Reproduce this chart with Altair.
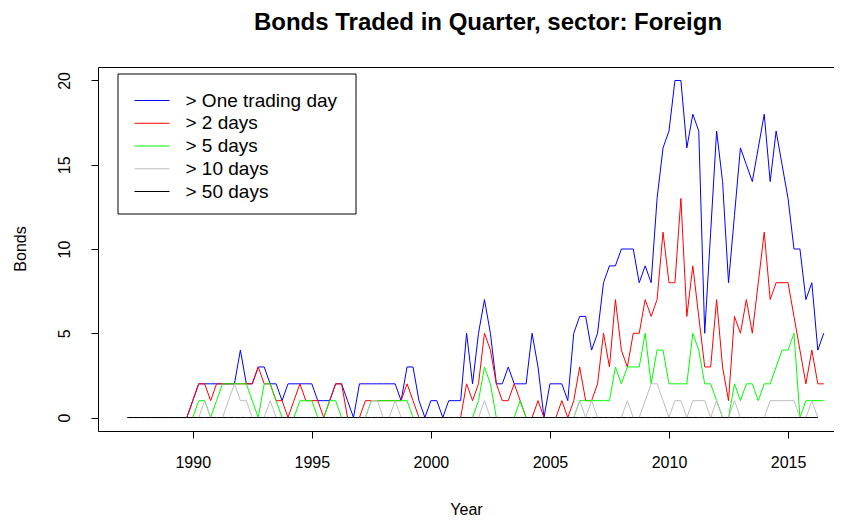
import altair as alt
import pandas as pd

# Quarterly series, first quarter 1987 Q2 (1987.25), step 0.25 year
start_year = 1987.25

one_day = [0,0,0,0,0,0,0,0,0,0,
           0,1,2,2,2,2,2,2,2,4,
           2,2,3,3,2,2,1,2,2,2,
           2,2,1,1,1,2,2,1,0,2,
           2,2,2,2,2,2,1,3,3,1,
           0,1,1,0,1,1,1,5,2,5,
           7,5,2,2,3,2,2,2,5,3,
           0,2,2,2,1,5,6,6,4,5,
           8,9,9,10,10,10,8,9,8,13,
           16,17,20,20,16,18,17,5,11,17,
           14,8,12,16,15,14,16,18,14,17,
           15,13,10,10,7,8,4,5]

two_days = [0,0,0,0,0,0,0,0,0,0,
            0,1,2,2,1,2,2,2,2,2,
            2,2,3,2,2,1,1,0,1,2,
            1,1,1,0,1,2,2,0,0,0,
            1,1,1,1,1,1,1,2,1,0,
            0,0,0,0,0,0,0,2,1,2,
            5,4,2,1,1,2,1,0,0,1,
            0,0,0,1,0,1,3,1,1,2,
            5,3,7,4,3,5,5,7,6,7,
            11,8,8,13,6,9,6,3,3,7,
            3,1,6,5,7,5,8,11,7,8,
            8,8,6,4,2,4,2,2]

five_days = [0,0,0,0,0,0,0,0,0,0,
             0,0,1,1,0,1,2,2,2,2,
             2,1,0,2,2,1,0,0,0,1,
             1,1,0,0,1,1,0,0,0,0,
             0,1,1,1,1,1,1,1,0,0,
             0,0,0,0,0,0,0,0,0,1,
             3,2,0,0,0,0,1,0,0,0,
             0,0,0,0,0,0,1,1,1,1,
             1,1,3,2,3,3,3,5,2,4,
             4,2,2,2,2,5,4,2,2,1,
             0,0,2,1,2,2,1,2,2,3,
             4,4,5,0,1,1,1,1]

ten_days = [0,0,0,0,0,0,0,0,0,0,
            0,0,0,1,0,0,0,1,2,1,
            1,0,0,0,1,0,0,0,0,0,
            0,0,0,0,0,0,0,0,0,0,
            0,1,1,0,0,1,0,0,0,0,
            0,0,0,0,0,0,0,0,0,0,
            1,0,0,0,0,0,0,0,0,0,
            0,0,0,0,0,0,1,0,1,0,
            0,0,0,0,1,0,0,1,2,2,
            1,0,1,1,0,1,1,1,0,1,
            0,0,1,0,0,0,0,0,1,1,
            1,1,1,0,0,1,0,None]

fifty_days = [0] * 117 + [None]

series_names = ["> One trading day", "> 2 days", "> 5 days", "> 10 days", "> 50 days"]
series_colors = ["#0000FF", "#FF0000", "#00FF00", "#BEBEBE", "#000000"]
series_values = [one_day, two_days, five_days, ten_days, fifty_days]

x_ticks = [1990, 1995, 2000, 2005, 2010, 2015]
y_ticks = [0, 5, 10, 15, 20]

rows = []
for name, vals in zip(series_names, series_values):
    for i, v in enumerate(vals):
        rows.append({"year": start_year + 0.25 * i, "series": name, "value": v})
df = pd.DataFrame(rows)

FONT = "Liberation Sans"

x_enc = alt.X("year:Q",
              scale=alt.Scale(domain=[1986.02, 2016.93], nice=False, zero=False),
              axis=alt.Axis(values=x_ticks, format="d", title="Year",
                            titleY=78, titleBaseline="middle"))
y_enc = alt.Y("value:Q",
              scale=alt.Scale(domain=[-0.8, 20.8], nice=False, zero=False),
              axis=alt.Axis(values=y_ticks, title="Bonds", labelAngle=270,
                            labelAlign="center", labelBaseline="alphabetic",
                            labelPadding=22,
                            titleX=-77.5, titleY=181.5, titleAngle=270,
                            titleAlign="center", titleBaseline="middle"))

base = alt.Chart(df)
line_layers = [
    base.transform_filter(alt.datum.series == name)
        .mark_line(color=col, strokeWidth=1)
        .encode(x=x_enc, y=y_enc)
    for name, col in zip(series_names, series_colors)
]

legend_df = pd.DataFrame({"label": series_names, "color": series_colors,
                          "row": list(range(len(series_names)))})

box = alt.Chart(pd.DataFrame({"k": [0]})).mark_rect(
    fill="white", stroke="black", strokeWidth=1
).encode(x=alt.value(20), x2=alt.value(258), y=alt.value(7), y2=alt.value(147))

leg_base = alt.Chart(legend_df).transform_calculate(ypix="33.5 + datum.row * 22.75")
leg_rules = leg_base.mark_rule(strokeWidth=1).encode(
    x=alt.value(36.5), x2=alt.value(71.5),
    y=alt.Y("ypix:Q", scale=None),
    color=alt.Color("color:N", scale=None),
)
leg_text = leg_base.mark_text(align="left", baseline="middle", font=FONT,
                              fontSize=19, color="black").encode(
    x=alt.value(87.5),
    y=alt.Y("ypix:Q", scale=None),
    text="label:N",
)

chart = alt.layer(*line_layers, box, leg_rules, leg_text).properties(
    width=736, height=364,
    title=alt.TitleParams("Bonds Traded in Quarter, sector: Foreign",
                          font=FONT, fontSize=24, fontWeight="bold",
                          color="black", anchor="middle", frame="group",
                          offset=32, dx=22),
    autosize=alt.AutoSizeParams(type="none"),
    padding={"left": 90, "top": 59, "right": 0, "bottom": 87},
).configure_view(
    stroke="black", strokeWidth=1
).configure_axis(
    domain=False, grid=False, ticks=True, tickSize=7, tickColor="black",
    tickWidth=1, labelFont=FONT, labelFontSize=16, labelColor="black",
    titleFont=FONT, titleFontSize=16, titleFontWeight="normal",
    titleColor="black", labelPadding=16
)

chart.save("out.html", embed_options={"renderer": "svg", "actions": False})
